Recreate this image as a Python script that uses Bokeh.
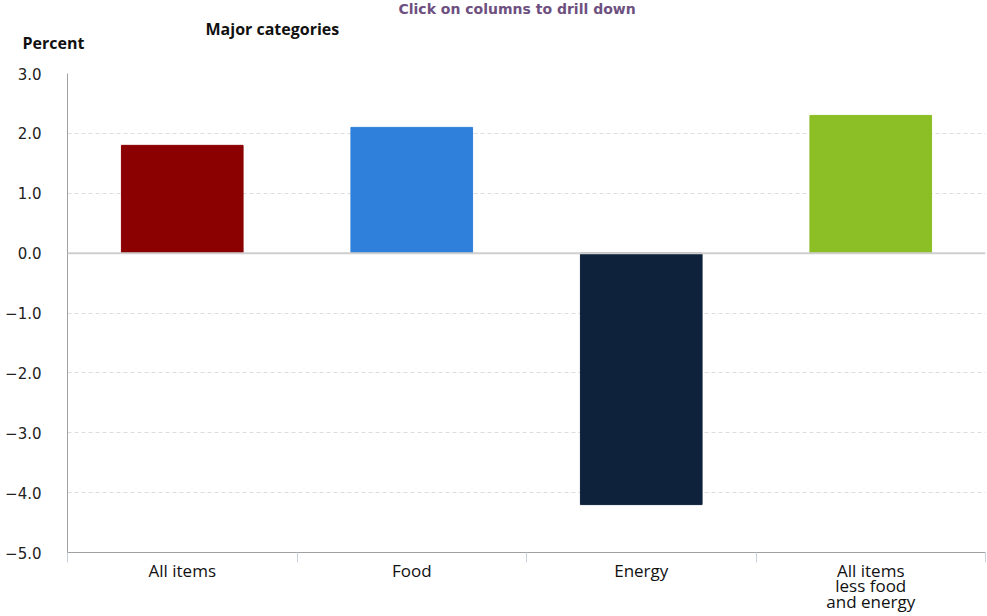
from bokeh.plotting import figure
from bokeh.models import (ColumnDataSource, FixedTicker, Title, Span, Range1d, LinearAxis)
from bokeh.embed import file_html
from bokeh.resources import INLINE

categories = ["All items", "Food", "Energy", "All items\nless food\nand energy"]
values = [1.8, 2.1, -4.2, 2.3]
colors = ["#8B0000", "#2F80DA", "#0E233B", "#8CBE25"]
y_ticks = [3.0, 2.0, 1.0, 0.0, -1.0, -2.0, -3.0, -4.0, -5.0]

xs = [i + 0.5 for i in range(len(categories))]
src = ColumnDataSource(dict(x=xs, top=values, color=colors, cat=categories))

p = figure(width=987, height=616, output_backend="svg", toolbar_location=None,
           x_range=Range1d(0, len(categories)), y_range=Range1d(-5, 3),
           x_axis_location=None, y_axis_location=None,
           min_border_left=67, min_border_right=2, min_border_top=73, min_border_bottom=40)
p.outline_line_color = None
p.background_fill_color = "white"

p.vbar(x="x", top="top", bottom=0, width=0.53, color="color", source=src)

p.xgrid.visible = False
p.ygrid.ticker = FixedTicker(ticks=y_ticks)
p.ygrid.grid_line_color = "#dddddd"
p.ygrid.grid_line_dash = "4 3"
p.ygrid.grid_line_width = 1

zero = Span(location=0, dimension="width", line_color="#cfcfcf", line_width=2)
p.add_layout(zero)

yaxis = LinearAxis(ticker=FixedTicker(ticks=y_ticks))
yaxis.major_label_overrides = {t: f"{t:.1f}".replace("-", "\u2212") for t in y_ticks}
yaxis.major_tick_line_color = None
yaxis.minor_tick_line_color = None
yaxis.axis_line_color = "#a0a0a0"
yaxis.major_label_standoff = 20
yaxis.major_label_text_font = "DejaVu Sans"
yaxis.major_label_text_font_size = "15px"
yaxis.major_label_text_color = "#222222"
p.add_layout(yaxis, "left")

xaxis = LinearAxis(ticker=FixedTicker(ticks=xs, minor_ticks=list(range(len(categories) + 1))))
xaxis.major_label_overrides = {x: c for x, c in zip(xs, categories)}
xaxis.major_tick_line_color = None
xaxis.minor_tick_line_color = "#c8d0de"
xaxis.minor_tick_in = 0
xaxis.minor_tick_out = 10
xaxis.axis_line_color = "#a0a0a0"
xaxis.major_label_standoff = -4
xaxis.major_label_text_font = "Open Sans"
xaxis.major_label_text_font_size = "17px"
xaxis.major_label_text_color = "#111111"
xaxis.major_label_text_line_height = 0.69
p.add_layout(xaxis, "below")

# spacer row between the headings and the plot area
p.add_layout(Title(text=" ", text_font="Lato", text_font_size="10px",
                   align="left", offset=0, standoff=13.4), "above")
p.add_layout(Title(text="Percent", text_font="Open Sans", text_font_style="bold",
                   text_font_size="16px", text_color="#111111", align="left",
                   vertical_align="top", offset=-45, standoff=-19.4), "above")
p.add_layout(Title(text="Major categories", text_font="Open Sans", text_font_style="bold",
                   text_font_size="16px", text_color="#111111", align="left",
                   vertical_align="top", offset=138, standoff=-1), "above")
p.add_layout(Title(text="Click on columns to drill down", text_font="DejaVu Sans",
                   text_font_style="bold", text_font_size="14px", text_color="#6e5080",
                   align="left", vertical_align="top", offset=331, standoff=0), "above")

open("out.html", "w").write(file_html(p, INLINE))
